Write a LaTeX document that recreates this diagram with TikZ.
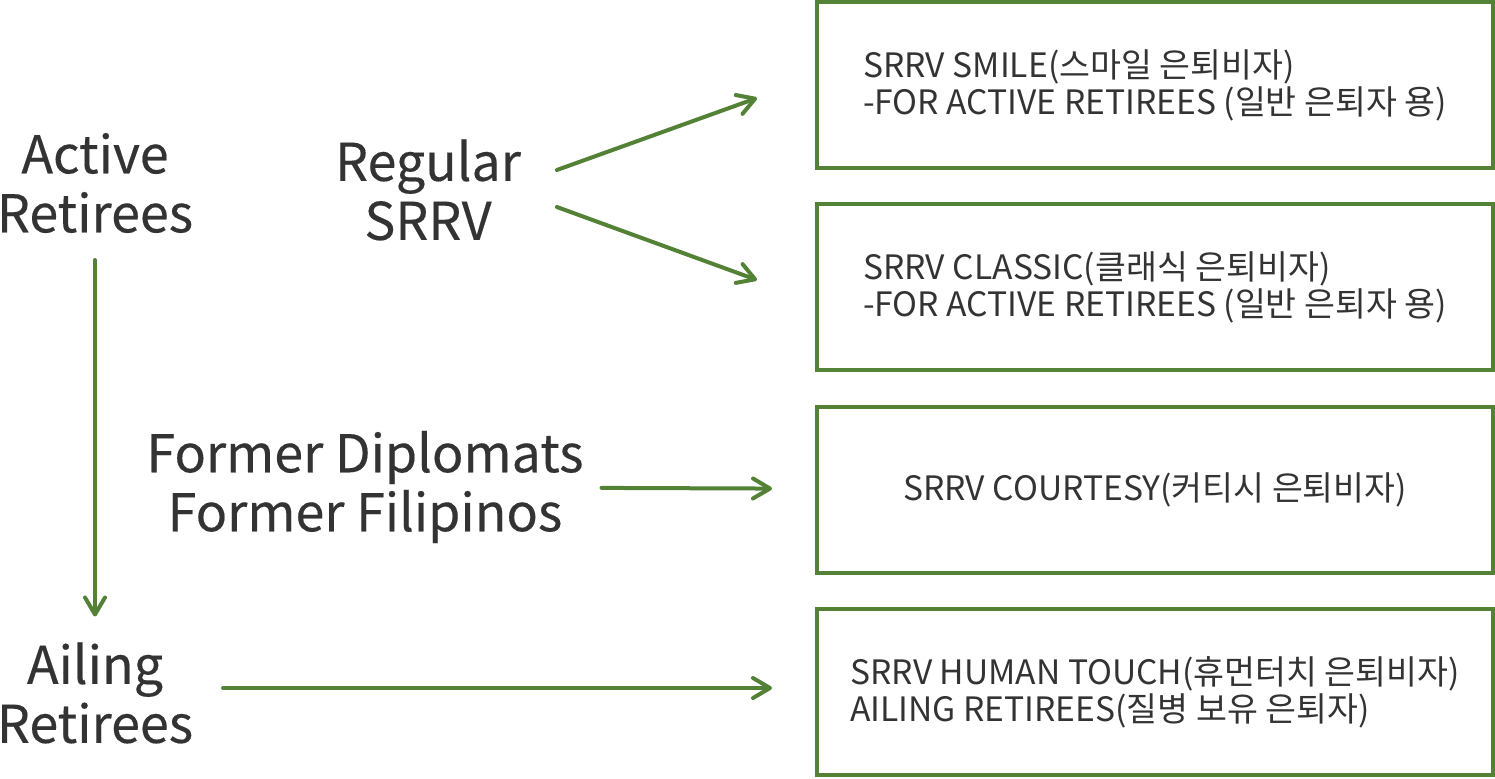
\documentclass[tikz,border=0pt]{standalone}
\usepackage{fontspec}
\setmainfont{Noto Sans CJK KR}
\newfontfamily\boxfont{Noto Sans CJK KR}
\newfontfamily\groupfont[FakeBold=0.3]{Noto Sans CJK KR}
\usetikzlibrary{arrows.meta,positioning}
\definecolor{visagreen}{HTML}{538135}
\definecolor{labelgray}{HTML}{333333}

\begin{document}
\begin{tikzpicture}
[x=0.5pt, y=-0.5pt, line width=2pt,
visabox/.style={rectangle, draw=visagreen, fill=white, line width=2pt, inner sep=0pt, minimum width=338pt, minimum height=83pt, align=left, text=labelgray, font=\boxfont\fontsize{16.8}{18.5}\selectfont},
group/.style={align=center, inner sep=0pt, text=labelgray, font=\groupfont\fontsize{26}{29.5}\selectfont},
flow/.style={draw=visagreen, line width=2pt, line cap=round, -{Straight Barb[length=8.5pt,width=10pt,round]}}
]
\useasboundingbox (0,0) rectangle (1495,778);

% visa boxes
\node[visabox] (smile) at (1155,85) {SRRV SMILE(스마일 은퇴비자)\\-FOR ACTIVE RETIREES (일반 은퇴자 용)};
\node[visabox] (classic) at (1155,287) {SRRV CLASSIC(클래식 은퇴비자)\\-FOR ACTIVE RETIREES (일반 은퇴자 용)};
\node[visabox] (courtesy) at (1155,490) {SRRV COURTESY(커티시 은퇴비자)};
\node[visabox] (touch) at (1155,692) {SRRV HUMAN TOUCH(휴먼터치 은퇴비자)\\AILING RETIREES(질병 보유 은퇴자)};

% applicant groups
\node[group] (active) at (95,183) {Active\\Retirees};
\node[group] (regular) at (428,190) {Regular\\SRRV};
\node[group] (former) at (365,487) {Former Diplomats\\Former Filipinos};
\node[group] (ailing) at (95,693) {Ailing\\Retirees};

\coordinate (smile-in) at (757,98);
\coordinate (classic-in) at (757,280);
\coordinate (touch-in) at (772,688);

\draw[flow] ([shift={(34,-20)}]regular.east) -- (smile-in);
\draw[flow] ([shift={(34,17)}]regular.east) -- (classic-in);
\draw[flow, shorten <=8pt, shorten >=21.5pt] (former) -- (courtesy);
\draw[flow] ([shift={(28,-5)}]ailing.east) -- (touch-in);
\draw[flow, shorten <=12.5pt, shorten >=12pt] (active) -- (ailing);
\end{tikzpicture}
\end{document}
